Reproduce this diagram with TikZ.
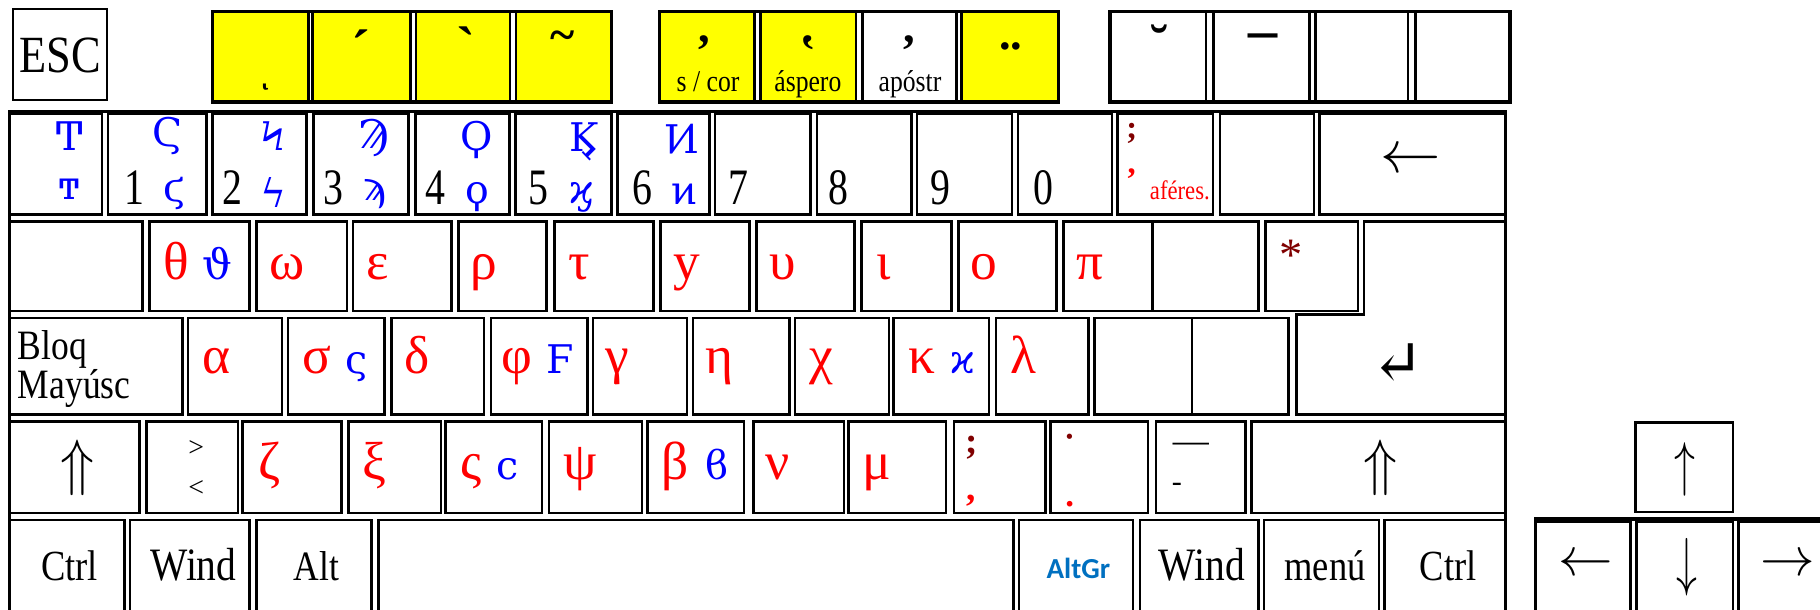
\documentclass[tikz,border=0pt]{standalone}
\usepackage{fontspec}
\usepackage{graphicx}
\setmainfont{Liberation Serif}
\newfontfamily\lab{Liberation Serif}[FakeStretch=0.85]
\newfontfamily\labn{Liberation Serif}[FakeStretch=0.78]
\newfontfamily\grk{Liberation Serif}
\newfontfamily\arch{DejaVu Serif}
\newfontfamily\altgrfont{Carlito}
\newcommand\kfs[1]{\fontsize{#1}{#1}\selectfont}
\definecolor{kred}{RGB}{255,0,0}
\definecolor{kblue}{RGB}{0,0,255}
\definecolor{kdark}{RGB}{128,0,0}
\definecolor{kyellow}{RGB}{255,255,0}
\definecolor{kaltgr}{RGB}{0,112,192}
\tikzset{
 keybox/.style={draw=black, line width=2.3pt, fill=white},
 ykey/.style={keybox, fill=kyellow},
 kframe/.style={draw=black, line width=3pt},
 tx/.style={inner sep=0pt, outer sep=0pt},
 rd/.style={tx, anchor=base, text=kred, font=\grk\kfs{46}},
 bl/.style={tx, text=kblue, font=\arch\kfs{34}},
 lb/.style={tx, anchor=base, text=black, font=\lab\kfs{37}},
 dg/.style={tx, anchor=base, text=black, font=\labn\kfs{44}},
 mk/.style={tx, text=black, font=\grk\bfseries\kfs{48}},
 brth/.style={tx, anchor=base, text=black, font=\grk\bfseries\kfs{40}},
 brlab/.style={tx, anchor=base, text=black, font=\lab\kfs{26}},
}
\begin{document}
\begin{tikzpicture}[x=1pt,y=-1pt]
\useasboundingbox (0,0) rectangle (1568,525);
\fill[white] (0,0) rectangle (1568,525);
% ---- row 0
\draw[keybox, line width=1.4pt] (11,8) rectangle (92,86);
\foreach \a/\b in {183/266,269.5/353.5,358.5/439.5,444.5/527} \draw[ykey] (\a,10) rectangle (\b,88);
\draw[kframe] (183,10) rectangle (527,88);
\draw[ykey] (568,10) rectangle (650,88);
\draw[ykey] (655,10) rectangle (737.5,88);
\draw[keybox] (743,10) rectangle (824,88);
\draw[ykey] (828.5,10) rectangle (912,88);
\draw[kframe] (568,10) rectangle (912,88);
\foreach \a/\b in {956.5/1039,1045.5/1128,1133.5/1213,1219.5/1301} \draw[keybox] (\a,10) rectangle (\b,88);
\draw[kframe] (956.5,10) rectangle (1301,88);
% ---- row 1
\foreach \a/\b in {8/88,93/178,183/264,270/352,358/439,444/527,532/611,616/698,704/785,790/872,877/958,963/1045,1051/1132,1137/1297}
  \draw[keybox] (\a,98) rectangle (\b,185);
% ---- row 2
\foreach \a/\b in {8/123,129/215,221/299,304/389,395/471,478/563,569/646,652/736,742/820,826/910,916/993,993/1084,1090/1170}
  \draw[keybox] (\a,191) rectangle (\b,268);
% ---- row 3
\foreach \a/\b in {8/157,162/243,248/331,337/417,423/506,511/592,597/680,685/766,770/852,858/938,943/1027,1027/1110}
  \draw[keybox] (\a,274) rectangle (\b,357);
\draw[keybox] (1175,191) -- (1297,191) -- (1297,357) -- (1117,357) -- (1117,271) -- (1175,271) -- cycle;
% ---- row 4
\foreach \a/\b in {8/120,126/205,209/294,300/380,384/467,473/553,558/641,649/727,731/815,822/901,905/989,996/1073,1078/1297}
  \draw[keybox] (\a,363) rectangle (\b,442);
% ---- row 5
\foreach \a/\b in {8/107,112/215,221/320,326/873,878/976,982/1084,1089/1188,1193/1297}
  \draw[keybox] (\a,448) rectangle (\b,540);
\draw[kframe, line width=2.6pt] (8,96) rectangle (1297,540);
% ---- arrow keys
\draw[keybox, line width=1.8pt] (1409,364) rectangle (1493,441);
\foreach \a/\b in {1323/1405,1410/1493,1498/1590} \draw[keybox] (\a,449) rectangle (\b,540);
\draw[kframe] (1323,447) rectangle (1590,540);

% ================= texts
\node[tx, font=\lab\kfs{45}] (esc) at (52,48) {ESC};
\node[tx, font=\arch\kfs{36}] (ypog) at (228,74) {ͺ};
\node[mk] (oxia) at (311,42) {´};
\node[mk] (varia) at (402,40) {\reflectbox{´}};
\node[tx, font=\grk\bfseries\kfs{40}] (perisp) at (485,35) {\textasciitilde};
\node[brth] (psili) at (607,37) {,};
\node[brlab] (psilit) at (610,78.5) {s / cor};
\node[brth] (dasia) at (696,37) {\reflectbox{,}};
\node[brlab] (dasiat) at (696,78.5) {áspero};
\node[brth] (apos) at (783,37) {,};
\node[brlab] (apost) at (784,78.5) {apóstr};
\node[tx, font=\grk\bfseries\kfs{40}] (diaer) at (871,40) {..};
\node[mk, font=\grk\bfseries\kfs{46}] (breve) at (999,38) {˘};
\node[mk, font=\grk\bfseries\kfs{50}] (macron) at (1088,48) {¯};
% row 1
\node[bl] (tU) at (60,117) {Ͳ};
\node[bl] (tL) at (60,163) {ͳ};
\node[dg] (d1) at (116,176) {1};
\node[dg] (d2) at (200,176) {2};
\node[dg] (d3) at (287,176) {3};
\node[dg] (d4) at (375,176) {4};
\node[dg] (d5) at (464,176) {5};
\node[dg] (d6) at (553.5,176) {6};
\node[dg] (d7) at (636,176) {7};
\node[dg] (d8) at (722,176) {8};
\node[dg] (d9) at (810,176) {9};
\node[dg] (d0) at (898.6,176) {0};
\node[bl] (stU) at (144,117) {Ϛ};
\node[bl] (stL) at (150,167) {ϛ};
\node[bl] (kpU) at (235,117) {Ϟ};
\node[bl] (kpL) at (236,166) {ϟ};
\node[bl] (saU) at (322,119) {Ϡ};
\node[bl] (saL) at (323,167) {ϡ};
\node[bl] (qpU) at (411,121) {Ϙ};
\node[bl] (qpL) at (411,170) {ϙ};
\node[bl] (kaU) at (503,122) {Ϗ};
\node[bl] (kaL) at (501,169) {ϗ};
\node[bl] (dgU) at (587,120) {Ͷ};
\node[bl] (dgL) at (590,167) {ͷ};
\node[tx, text=kdark, font=\grk\bfseries\kfs{28}] (semi1) at (975,115) {;};
\node[tx, text=kred, font=\grk\bfseries\kfs{28}] (comma1) at (975,150) {,};
\node[tx, anchor=base, text=kred, font=\lab\kfs{23}] (aferes) at (1016.5,172) {aféres.};
\node[tx] (bksp) at (1215,139) {\scalebox{5.2}{$\leftarrow$}};
% row 2
\node[rd] (theta) at (151.6,241) {θ};
\node[bl, anchor=base, font=\arch\kfs{36}] (vtheta) at (187,241) {ϑ};
\node[rd] (omega) at (247,241) {ω};
\node[rd] (eps) at (325,241) {ε};
\node[rd] (rho) at (417,241) {ρ};
\node[rd] (tau) at (499,241) {τ};
\node[rd] (yy) at (592,241) {y};
\node[rd] (ups) at (674.5,241) {υ};
\node[rd] (iota) at (761,241) {ι};
\node[rd] (omi) at (848,241) {ο};
\node[rd] (pi) at (938.7,241) {π};
\node[tx, text=kdark, font=\grk\kfs{40}] (ast) at (1112,220) {*};
% row 3
\node[lb, anchor=base west, font=\lab\kfs{36}] (bloq) at (15.5,310) {Bloq};
\node[lb, anchor=base west, font=\lab\kfs{36}] (mayus) at (15.5,343) {Mayúsc};
\node[rd] (alpha) at (186.5,322) {α};
\node[rd] (sigma) at (272.6,322) {σ};
\node[bl, anchor=base] (fsig) at (307,322) {ς};
\node[rd] (delta) at (359,322) {δ};
\node[rd] (phi) at (445.6,322) {φ};
\node[bl, anchor=base] (digam) at (483,322) {Ϝ};
\node[rd] (gamma) at (532,322) {γ};
\node[rd] (eta) at (620,322) {η};
\node[rd] (chi) at (707.7,322) {χ};
\node[rd] (kappa) at (794,322) {κ};
\node[bl, anchor=base] (vkappa) at (829.5,322) {ϰ};
\node[rd] (lambda) at (882,322) {λ};
\node[tx, font=\arch\kfs{54}] (enterg) at (1204,314) {↵};
% row 4
\node[tx] (shiftL) at (66.5,403) {\scalebox{4.8}[5.4]{$\Uparrow$}};
\node[tx, font=\grk\kfs{24}] (gt) at (169,386) {>};
\node[tx, font=\grk\kfs{24}] (lt) at (169,421) {<};
\node[rd] (zeta) at (232.6,413) {ζ};
\node[rd] (xi) at (322.6,413) {ξ};
\node[rd] (fsig2) at (406,413) {ς};
\node[bl, anchor=base] (lunate) at (437.6,413) {ϲ};
\node[rd] (psi) at (500,413) {ψ};
\node[rd] (beta) at (581.6,413) {β};
\node[bl, anchor=base] (cbeta) at (617.8,413) {ϐ};
\node[rd] (nu) at (670,413) {ν};
\node[rd] (mu) at (755,413) {μ};
\node[tx, text=kdark, font=\grk\bfseries\kfs{32}] (semi2) at (837,386) {;};
\node[tx, text=kred, font=\grk\bfseries\kfs{32}] (comma2) at (837,431) {,};
\node[tx, text=kdark, font=\grk\bfseries\kfs{28}] (ano) at (921.5,380) {·};
\node[tx, text=kred, font=\grk\bfseries\kfs{30}] (stop) at (921.5,434) {.};
\node[tx, font=\grk\kfs{31}] (emd) at (1026,386) {—};
\node[tx, font=\grk\kfs{26}] (hyph) at (1014,420) {-};
\node[tx] (shiftR) at (1189,403) {\scalebox{4.8}[5.4]{$\Uparrow$}};
% row 5
\node[lb] (ctrlL) at (60,500) {Ctrl};
\node[lb, font=\lab\kfs{40}] (windL) at (166.6,500) {Wind};
\node[lb, font=\lab\kfs{36}] (alt) at (272.6,500) {Alt};
\node[tx, anchor=base, text=kaltgr, font=\altgrfont\bfseries\kfs{25}] (altgr) at (929,498) {AltGr};
\node[lb, font=\lab\kfs{40}] (windR) at (1035.5,500) {Wind};
\node[lb] (menu) at (1141.5,500) {menú};
\node[lb] (ctrlR) at (1247.7,500) {Ctrl};
% arrows
\node[tx] (up) at (1452,404) {\scalebox{3.6}[5.2]{$\uparrow$}};
\node[tx] (left) at (1366.6,487) {\scalebox{4.7}{$\leftarrow$}};
\node[tx] (down) at (1453,489) {\scalebox{3.6}[5.6]{$\downarrow$}};
\node[tx] (right) at (1540,487) {\scalebox{4.7}{$\rightarrow$}};
\end{tikzpicture}
\end{document}
